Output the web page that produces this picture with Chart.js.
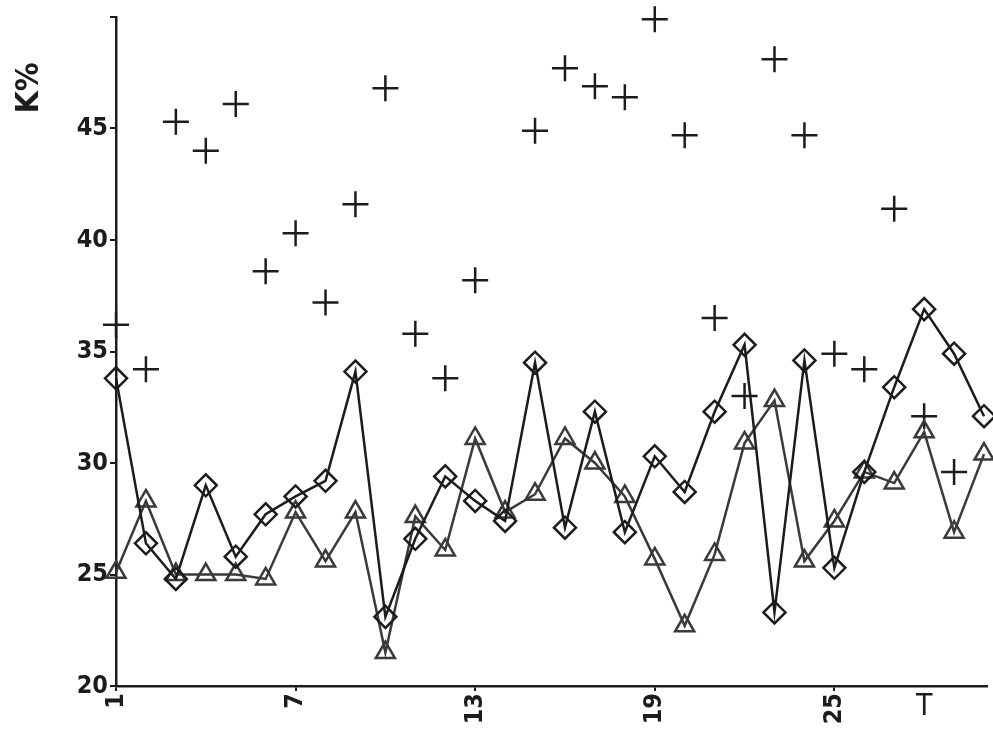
<!DOCTYPE html>
<html>
<head>
<meta charset="utf-8">
<script src="https://cdn.jsdelivr.net/npm/chart.js@4.4.1/dist/chart.umd.min.js"></script>
<style>
  html, body { margin: 0; padding: 0; background: #fff; overflow: hidden; }
  #wrap { width: 993px; height: 737px; }
  canvas { display: block; }
</style>
</head>
<body>
<div id="wrap"><canvas id="chart"></canvas></div>
<script>
// sample positions along the x axis
const positions = [1, 2, 3, 4, 5, 6, 7, 8, 9, 10, 11, 12, 13, 14, 15,
  16, 17, 18, 19, 20, 21, 22, 23, 24, 25, 26, 27, 28, 29, 30];

// diamond series (connected)
const diamondValues = [33.8, 26.4, 24.8, 29.0, 25.8, 27.7, 28.5, 29.2, 34.1, 23.1,
  26.6, 29.4, 28.3, 27.4, 34.5, 27.1, 32.3, 26.9, 30.3, 28.7,
  32.3, 35.3, 23.3, 34.6, 25.3, 29.6, 33.4, 36.9, 34.9, 32.1];

// triangle series (connected)
const triangleValues = [25.1, 28.3, 25.0, 25.0, 25.0, 24.8, 27.8, 25.6, 27.8, 21.5,
  27.6, 26.1, 31.1, 27.8, 28.6, 31.1, 30.0, 28.5, 25.7, 22.7,
  25.9, 30.9, 32.8, 25.6, 27.4, 29.6, 29.1, 31.4, 26.9, 30.4];

// cross series (points only, gaps where no mark)
const crossValues = [36.2, 34.2, 45.3, 44.0, 46.1, 38.6, 40.3, 37.2, 41.6, 46.8,
  35.8, 33.8, 38.2, null, 44.9, 47.7, 46.9, 46.4, 49.9, 44.7,
  36.5, 33.0, 48.1, 44.7, 34.9, 34.2, 41.4, 32.1, 29.6, null];

const xTickValues = [1, 7, 13, 19, 25];
const xTickLabels = ['1', '7', '13', '19', '25'];
const extraXLabel = { value: 28, text: 'T' };
const yTickValues = [20, 25, 30, 35, 40, 45, 50];
const yTitle = 'K%';

const toPoints = (vals) => positions.map((x, i) => ({ x: x, y: vals[i] }));

const ink = '#1c1c1c';
const tickFont = { family: 'DejaVu Sans Condensed', size: 25, weight: 'bold' };

const extraText = {
  id: 'extraText',
  afterDraw(chart) {
    const ctx = chart.ctx;
    const xs = chart.scales.x;
    ctx.save();
    ctx.fillStyle = ink;
    ctx.font = '30px "DejaVu Sans Condensed"';
    ctx.textAlign = 'center';
    ctx.textBaseline = 'top';
    ctx.fillText(extraXLabel.text, xs.getPixelForValue(extraXLabel.value), xs.top + 6);
    ctx.translate(30, 88);
    ctx.rotate(-Math.PI / 2);
    ctx.textBaseline = 'middle';
    ctx.font = 'bold 32px "DejaVu Sans Condensed"';
    ctx.fillText(yTitle, 0, 0);
    ctx.restore();
  }
};

new Chart(document.getElementById('chart'), {
  type: 'scatter',
  data: {
    datasets: [
      {
        label: 'diamond',
        data: toPoints(diamondValues),
        showLine: true,
        clip: false,
        borderColor: ink,
        borderWidth: 2.5,
        pointStyle: 'rectRot',
        pointRadius: 11,
        pointBorderWidth: 2.5,
        pointBackgroundColor: 'rgba(255,255,255,0)',
        pointBorderColor: ink,
      },
      {
        label: 'triangle',
        data: toPoints(triangleValues),
        showLine: true,
        clip: false,
        borderColor: '#3a3a3a',
        borderWidth: 2.5,
        pointStyle: 'triangle',
        pointRadius: 11,
        pointBorderWidth: 2.5,
        pointBackgroundColor: 'rgba(255,255,255,0)',
        pointBorderColor: '#3a3a3a',
      },
      {
        label: 'cross',
        data: toPoints(crossValues),
        showLine: false,
        clip: false,
        pointStyle: 'cross',
        pointRadius: 13,
        pointBorderWidth: 2.5,
        pointBorderColor: ink,
      },
    ],
  },
  options: {
    responsive: true,
    maintainAspectRatio: false,
    animation: false,
    // autoPadding off, otherwise the point radius pushes the plot edge inward
    layout: { autoPadding: false, padding: { top: 17, right: 6, left: 0, bottom: 0 } },
    plugins: {
      legend: { display: false },
      tooltip: { enabled: false },
    },
    scales: {
      x: {
        type: 'linear',
        min: 1,
        max: 30.1,
        afterBuildTicks: (scale) => {
          scale.ticks = xTickValues.map(v => ({ value: v }));
        },
        afterFit: (scale) => {
          scale.height = 51;
          scale.paddingLeft = 0;
          scale.paddingRight = 0;
        },
        grid: { display: true, drawOnChartArea: false, color: ink, lineWidth: 2, tickLength: 5 },
        border: { display: true, color: ink, width: 2.5 },
        ticks: {
          color: ink,
          font: tickFont,
          minRotation: 90,
          maxRotation: 90,
          padding: 2,
          callback: (v) => {
            const i = xTickValues.indexOf(v);
            return i >= 0 ? xTickLabels[i] : '';
          },
        },
      },
      y: {
        min: 20,
        max: 50,
        afterBuildTicks: (scale) => {
          scale.ticks = yTickValues.map(v => ({ value: v }));
        },
        afterFit: (scale) => {
          scale.width = 116;
          scale.paddingTop = 0;
          scale.paddingBottom = 0;
        },
        grid: { display: true, drawOnChartArea: false, color: ink, lineWidth: 2, tickLength: 6 },
        border: { display: true, color: ink, width: 2.5 },
        ticks: {
          color: ink,
          font: tickFont,
          padding: 2,
          callback: (v) => (v === 50 ? '' : String(v)),
        },
      },
    },
  },
  plugins: [extraText],
});
</script>
</body>
</html>
